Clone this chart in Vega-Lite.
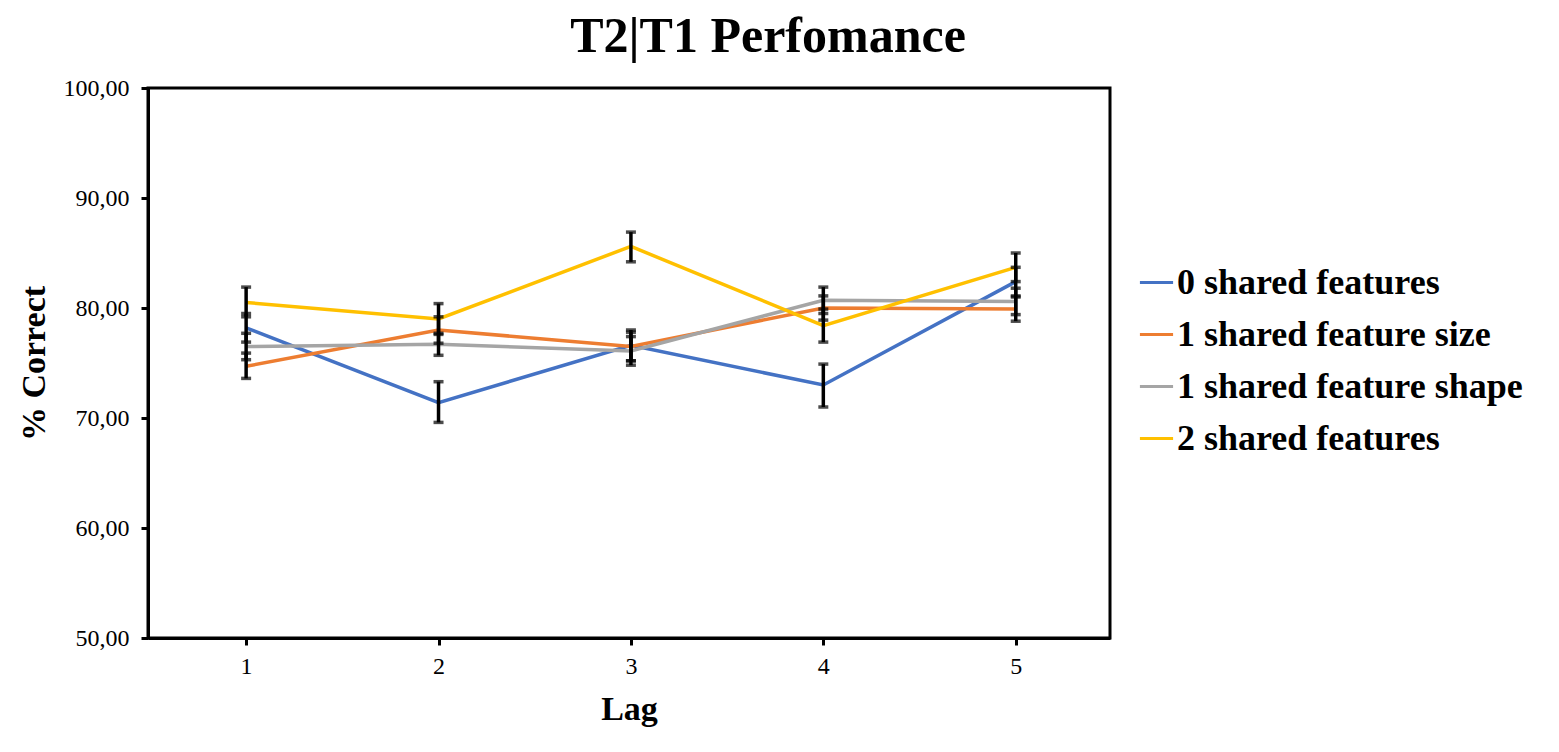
{
  "$schema": "https://vega.github.io/schema/vega-lite/v6.json",
  "autosize": "none",
  "width": 962,
  "height": 550,
  "padding": {"left": 148, "top": 88, "right": 449, "bottom": 114},
  "background": "white",
  "title": {
    "text": "T2|T1 Perfomance",
    "font": "Liberation Serif",
    "fontSize": 50,
    "fontWeight": "bold",
    "color": "black",
    "anchor": "middle",
    "dx": 139,
    "offset": 14
  },
  "data": {
    "values": [
      {"lag": 1, "series": "0 shared features", "pct": 78.2, "lo": 76.9, "hi": 79.5},
      {"lag": 2, "series": "0 shared features", "pct": 71.4, "lo": 69.6, "hi": 73.3},
      {"lag": 3, "series": "0 shared features", "pct": 76.6, "lo": 75.2, "hi": 78.0},
      {"lag": 4, "series": "0 shared features", "pct": 73.0, "lo": 71.0, "hi": 74.9},
      {"lag": 5, "series": "0 shared features", "pct": 82.4, "lo": 81.1, "hi": 83.7},
      {"lag": 1, "series": "1 shared feature size", "pct": 74.7, "lo": 73.6, "hi": 75.9},
      {"lag": 2, "series": "1 shared feature size", "pct": 78.0, "lo": 76.8, "hi": 79.2},
      {"lag": 3, "series": "1 shared feature size", "pct": 76.5, "lo": 75.2, "hi": 77.8},
      {"lag": 4, "series": "1 shared feature size", "pct": 80.0, "lo": 78.9, "hi": 81.1},
      {"lag": 5, "series": "1 shared feature size", "pct": 79.9, "lo": 78.8, "hi": 81.0},
      {"lag": 1, "series": "1 shared feature shape", "pct": 76.5, "lo": 75.3, "hi": 77.7},
      {"lag": 2, "series": "1 shared feature shape", "pct": 76.7, "lo": 75.7, "hi": 77.7},
      {"lag": 3, "series": "1 shared feature shape", "pct": 76.1, "lo": 74.8, "hi": 77.4},
      {"lag": 4, "series": "1 shared feature shape", "pct": 80.7, "lo": 79.5, "hi": 81.9},
      {"lag": 5, "series": "1 shared feature shape", "pct": 80.6, "lo": 79.4, "hi": 81.8},
      {"lag": 1, "series": "2 shared features", "pct": 80.5, "lo": 79.2, "hi": 81.9},
      {"lag": 2, "series": "2 shared features", "pct": 79.0, "lo": 77.6, "hi": 80.4},
      {"lag": 3, "series": "2 shared features", "pct": 85.6, "lo": 84.2, "hi": 86.9},
      {"lag": 4, "series": "2 shared features", "pct": 78.4, "lo": 76.9, "hi": 79.9},
      {"lag": 5, "series": "2 shared features", "pct": 83.7, "lo": 82.4, "hi": 85.0}
    ]
  },
  "encoding": {
    "x": {
      "field": "lag",
      "type": "quantitative",
      "scale": {"domain": [0.49, 5.49], "nice": false, "zero": false},
      "axis": {
        "title": "Lag",
        "values": [1, 2, 3, 4, 5],
        "format": "d",
        "grid": false,
        "domainColor": "black",
        "domainWidth": 3,
        "tickColor": "black",
        "tickWidth": 3,
        "tickSize": 7,
        "labelFont": "Liberation Serif",
        "labelFontSize": 24,
        "labelColor": "black",
        "labelPadding": 9,
        "titleFont": "Liberation Serif",
        "titleFontSize": 34,
        "titleFontWeight": "bold",
        "titleColor": "black",
        "titlePadding": 14
      }
    }
  },
  "layer": [
    {
      "mark": {"type": "line", "strokeWidth": 3.5},
      "encoding": {
        "y": {
          "field": "pct",
          "type": "quantitative",
          "scale": {"domain": [50, 100], "nice": false, "zero": false},
          "axis": {
            "title": "% Correct",
            "values": [50, 60, 70, 80, 90, 100],
            "labelExpr": "replace(format(datum.value, '.2f'), '.', ',')",
            "grid": false,
            "domainColor": "black",
            "domainWidth": 3,
            "tickColor": "black",
            "tickWidth": 3,
            "tickSize": 7,
            "labelFont": "Liberation Serif",
            "labelFontSize": 24,
            "labelColor": "black",
            "labelPadding": 12,
            "titleFont": "Liberation Serif",
            "titleFontSize": 34,
            "titleFontWeight": "bold",
            "titleColor": "black",
            "titlePadding": 12
          }
        },
        "color": {
          "field": "series",
          "type": "nominal",
          "scale": {
            "domain": ["0 shared features", "1 shared feature size", "1 shared feature shape", "2 shared features"],
            "range": ["#4472C4", "#ED7D31", "#A5A5A5", "#FFC000"]
          },
          "legend": {
            "title": null,
            "orient": "none",
            "legendX": 990,
            "legendY": 176,
            "symbolType": "stroke",
            "symbolSize": 1100,
            "symbolStrokeWidth": 3,
            "labelFont": "Liberation Serif",
            "labelFontSize": 36,
            "labelFontWeight": "bold",
            "labelColor": "black",
            "labelOffset": 2,
            "rowPadding": 15,
            "labelLimit": 500
          }
        }
      }
    },
    {
      "mark": {"type": "errorbar", "color": "black", "thickness": 3.5, "ticks": {"size": 10, "thickness": 3.5, "color": "black"}},
      "encoding": {
        "y": {"field": "lo", "type": "quantitative", "title": "% Correct"},
        "y2": {"field": "hi"},
        "detail": {"field": "series"}
      }
    }
  ],
  "config": {
    "view": {"stroke": "black", "strokeWidth": 3}
  }
}
